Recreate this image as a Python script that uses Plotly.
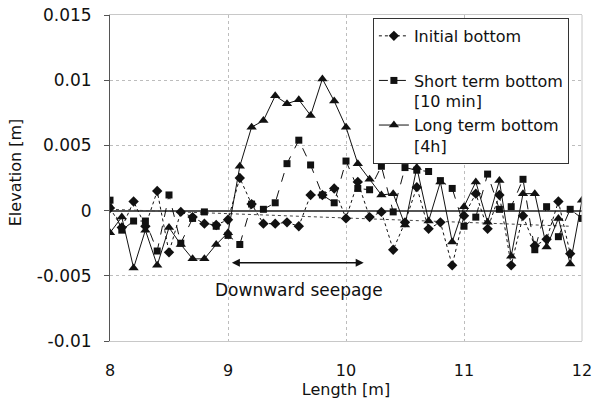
import plotly.graph_objects as go

# ---- data ----
length_m = [8.0, 8.1, 8.2, 8.3, 8.4, 8.5, 8.6, 8.7, 8.8, 8.9,
            9.0, 9.1, 9.2, 9.3, 9.4, 9.5, 9.6, 9.7, 9.8, 9.9,
            10.0, 10.1, 10.2, 10.3, 10.4, 10.5, 10.6, 10.7, 10.8, 10.9,
            11.0, 11.1, 11.2, 11.3, 11.4, 11.5, 11.6, 11.7, 11.8, 11.9, 12.0]

initial_bottom = [0.0002, -0.0013, 0.0007, -0.0012, 0.0015, -0.0032, -0.0001, -0.0005, -0.0010, -0.0011,
                  -0.0007, 0.0025, 0.0005, -0.0010, -0.0010, -0.0009, -0.0012, 0.0012, 0.0012, 0.0017,
                  -0.0006, 0.0022, -0.0005, -0.0001, -0.0030, -0.0009, 0.0018, -0.0014, -0.0009, -0.0042,
                  -0.0004, 0.0013, -0.0014, 0.0012, -0.0042, -0.0004, -0.0027, -0.0022, 0.0007, -0.0033, None]

short_term_bottom = [0.0008, -0.0015, -0.0008, -0.0008, -0.0031, 0.0012, -0.0025, -0.0006, -0.0001, -0.0012,
                     -0.0019, -0.0026, 0.0005, 0.0001, 0.0006, 0.0036, 0.0054, 0.0035, 0.0012, 0.0006,
                     0.0038, 0.0017, 0.0016, 0.0034, -0.0001, 0.0033, 0.0031, 0.0030, 0.0023, 0.0017,
                     -0.0012, -0.0005, 0.0028, 0.0001, 0.0003, 0.0024, -0.0030, 0.0003, -0.0020, 0.0001, -0.0006]

long_term_bottom = [-0.0017, -0.0005, -0.0044, -0.0015, -0.0042, -0.0013, -0.0026, -0.0037, -0.0037, -0.0026,
                    -0.0017, 0.0034, 0.0064, 0.0069, 0.0088, 0.0082, 0.0085, 0.0073, 0.0101, 0.0084,
                    0.0064, 0.0036, 0.0024, 0.0012, 0.0013, -0.0011, 0.0033, -0.0008, 0.0022, -0.0024,
                    0.0003, 0.0022, -0.0009, 0.0023, -0.0035, 0.0013, 0.0013, -0.0028, -0.0006, -0.0041, 0.0008]

trend_x = [8.0, 11.9]
trend_y = [0.0001, -0.0012]

seepage_start = 9.02
seepage_end = 10.15
seepage_level = -0.004
seepage_label_x = 9.6
seepage_label_y = -0.0061
seepage_label = "Downward seepage"

y_ticks = [-0.01, -0.005, 0, 0.005, 0.01, 0.015]
y_tick_labels = ["-0.01", "-0.005", "0", "0.005", "0.01", "0.015"]
x_ticks = [8, 9, 10, 11, 12]

FONT = "DejaVu Sans"
INK = "#111111"

fig = go.Figure()

fig.add_trace(go.Scatter(
    x=trend_x, y=trend_y, mode="lines", showlegend=False,
    line=dict(color="#444444", width=1, dash="dot"), hoverinfo="skip"))

fig.add_trace(go.Scatter(
    x=length_m, y=initial_bottom, mode="lines+markers",
    name="Initial bottom<br> ",
    line=dict(color=INK, width=1, dash="dot"),
    marker=dict(symbol="diamond", size=8, color=INK)))

fig.add_trace(go.Scatter(
    x=length_m, y=short_term_bottom, mode="lines+markers",
    name="Short term bottom<br>[10 min]",
    line=dict(color=INK, width=1, dash="dash"),
    marker=dict(symbol="square", size=7, color=INK)))

fig.add_trace(go.Scatter(
    x=length_m, y=long_term_bottom, mode="lines+markers",
    name="Long term bottom<br>[4h]",
    line=dict(color=INK, width=1),
    marker=dict(symbol="triangle-up", size=9, color=INK)))

# double-headed arrow and label
fig.add_annotation(x=seepage_end, y=seepage_level, ax=seepage_start, ay=seepage_level,
                   xref="x", yref="y", axref="x", ayref="y", text="",
                   showarrow=True, arrowhead=2, startarrowhead=2, arrowside="end+start",
                   arrowwidth=1.6, arrowsize=1, arrowcolor=INK)
fig.add_annotation(x=seepage_label_x, y=seepage_label_y, xref="x", yref="y",
                   text=seepage_label, showarrow=False,
                   font=dict(family=FONT, size=17, color=INK))

# y-axis title
fig.add_annotation(x=-0.201, y=0.515, xref="paper", yref="paper",
                   text="Elevation [m]", textangle=-90, showarrow=False,
                   xanchor="center", yanchor="middle",
                   font=dict(family=FONT, size=16, color=INK))

# right border of the plot area
fig.add_shape(type="line", xref="paper", yref="paper", x0=1, x1=1, y0=0, y1=1,
              line=dict(color="#c8c8c8", width=1))

fig.update_layout(
    width=594, height=402,
    margin=dict(l=110, r=12, t=15, b=61, autoexpand=False),
    paper_bgcolor="white", plot_bgcolor="white",
    font=dict(family=FONT, size=16, color=INK),
    showlegend=True,
    legend=dict(x=0.557, y=0.991, xanchor="left", yanchor="top",
                bgcolor="white", bordercolor="#333333", borderwidth=1,
                font=dict(family=FONT, size=16, color=INK), valign="top",
                tracegroupgap=0),
    xaxis=dict(range=[8, 12], tickvals=x_ticks, ticks="", showgrid=True,
               gridcolor="#bdbdbd", griddash="dot", gridwidth=1,
               showline=True, linecolor="#c8c8c8", mirror=True, zeroline=False,
               automargin=False, ticklabelstandoff=15,
               tickfont=dict(family=FONT, size=16, color=INK),
               title=dict(text="Length [m]", standoff=4,
                          font=dict(family=FONT, size=16, color=INK))),
    yaxis=dict(range=[-0.01, 0.015], tickvals=y_ticks, ticktext=y_tick_labels,
               ticks="outside", ticklen=5, tickcolor="#555555",
               showgrid=True, gridcolor="#bdbdbd", griddash="dot", gridwidth=1,
               showline=True, linecolor="#555555", zeroline=True,
               zerolinecolor="#555555", zerolinewidth=1.5,
               automargin=False, ticklabelstandoff=9,
               tickfont=dict(family=FONT, size=17, color=INK)),
)

fig.write_html("out.html")
